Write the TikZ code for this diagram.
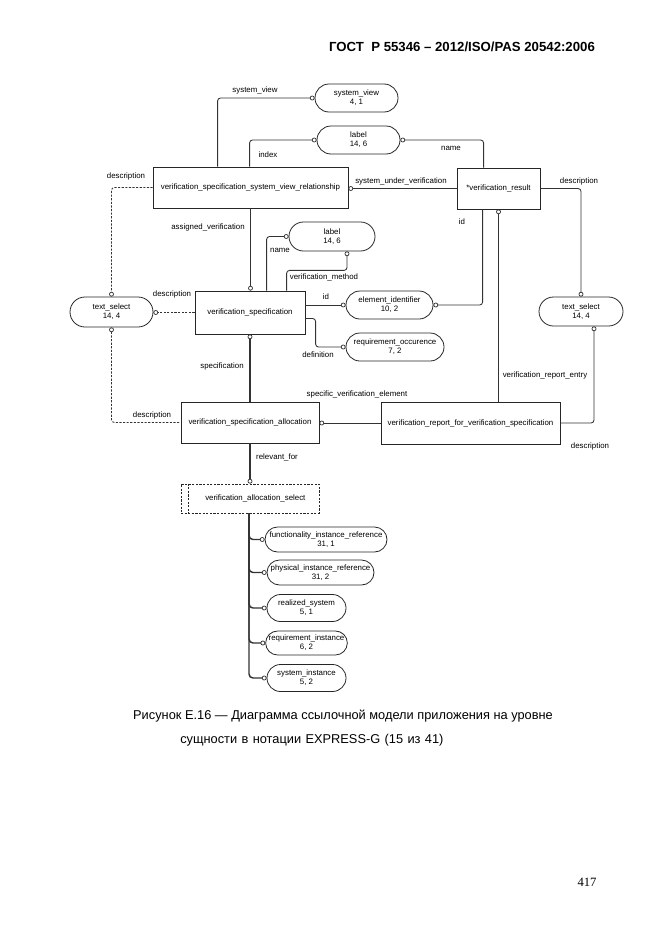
\documentclass[tikz,border=0pt]{standalone}
\usepackage{fontspec}
\setmainfont{Liberation Sans}
\newfontfamily\serifnum{Liberation Serif}
\usetikzlibrary{shapes.misc,arrows.meta,calc}
\newcommand\dfont{\fontsize{5.9}{6.9}\selectfont}
\begin{document}
\begin{tikzpicture}[x=0.75pt,y=-0.75pt,
  sz/.style 2 args={minimum width=#1*0.75pt, minimum height=#2*0.75pt},
  ent/.style={draw=black!85, line width=0.6pt, rectangle, inner sep=0pt, font=\dfont},
  tref/.style={draw=black!85, line width=0.6pt, rounded rectangle, inner sep=0pt, align=center, font=\dfont},
  lbl/.style={inner sep=0pt, font=\dfont},
  rel/.style={draw=black!80, line width=0.65pt, rounded corners=2.2pt},
  thk/.style={line width=1.1pt},
  dsh/.style={dash pattern=on 1.6pt off 1.1pt},
  tipE/.style={-{Circle[open,length=3.6pt,line width=0.55pt]}},
  tipS/.style={{Circle[open,length=3.6pt,line width=0.55pt]}-}
]
\useasboundingbox (0,0) rectangle (662,935);

% header
\node[inner sep=0pt, font=\bfseries\fontsize{9.9}{12}\selectfont] (hdr) at (462,47) {ГОСТ\ \ Р 55346 – 2012/ISO/PAS 20542:2006};

% entities
\node[ent, sz={195}{41}] (vssvr) at (250.5,187.5) {verification\_specification\_system\_view\_relationship};
\node[ent, sz={83}{41}] (vr) at (498.5,188.5) {*verification\_result};
\node[ent, sz={110}{43}] (vs) at (250,312.5) {verification\_specification};
\node[ent, sz={138}{41}] (vsa) at (250,422.5) {verification\_specification\_allocation};
\node[ent, sz={179}{42}] (vrfvs) at (470.5,423) {verification\_report\_for\_verification\_specification};
\node[ent, dsh, sz={138}{29}] (vas) at (250,498.5) {\hspace{8pt}verification\_allocation\_select};
\draw[dsh, draw=black!85, line width=0.6pt] ($(vas.north west)+(8,0)$) -- ($(vas.south west)+(8,0)$);

% type references
\node[tref, sz={83}{28}] (sv) at (356.5,98) {system\_view\\4, 1};
\node[tref, sz={83}{28}] (lbl1) at (358.5,140) {label\\14, 6};
\node[tref, sz={86}{29}] (lbl2) at (332,236.5) {label\\14, 6};
\node[tref, sz={87}{28}] (ei) at (389.5,305) {element\_identifier\\10, 2};
\node[tref, sz={98}{28}] (rq) at (395,347) {requirement\_occurence\\7, 2};
\node[tref, sz={84}{29}] (tsr) at (581,311.5) {text\_select\\14, 4};
\node[tref, sz={83}{30}] (tsl) at (111.5,312) {text\_select\\14, 4};
\node[tref, sz={122}{25}] (fir) at (326,539.5) {functionality\_instance\_reference\\31, 1};
\node[tref, sz={107}{25}] (pir) at (320.5,572.5) {physical\_instance\_reference\\31, 2};
\node[tref, sz={79}{27}] (rs) at (306.5,608) {realized\_system\\5, 1};
\node[tref, sz={79}{24}] (ri) at (306.5,643) {requirement\_instance\\6, 2};
\node[tref, sz={79}{27}] (si) at (306.5,678) {system\_instance\\5, 2};

% connectors
\draw[rel, tipE] ($(vssvr.north west)+(65,0)$) |- (sv.west);
\draw[rel, tipE] ($(vssvr.north west)+(97,0)$) |- (lbl1.west);
\draw[rel, tipS] (lbl1.east) -| ($(vr.north west)+(27,0)$);
\draw[rel, tipE] (vr.west) -- (vr.west -| vssvr.east);
\draw[rel, tipE] (vr.east) -| (tsr.north);
\draw[rel, tipE] ($(vr.south west)+(26,0)$) |- (ei.east);
\draw[rel, thk, tipS] (vr.south) -- (vr.south |- vrfvs.north);
\draw[rel, tipS] ($(tsr.south)+(13,0)$) |- (vrfvs.east);
\draw[rel, thk, tipE] (vssvr.south) -- (vssvr.south |- vs.north);
\draw[rel, dsh, tipE] (vssvr.west) -| (tsl.north);
\draw[rel, tipE] ($(vs.north west)+(72,0)$) |- (lbl2.west);
\draw[rel, tipE] ($(vs.north west)+(92,0)$) |- ($(lbl2.south)+(15,19)$) -- ($(lbl2.south)+(15,0)$);
\draw[rel, tipE] (ei.west -| vs.east) -- (ei.west);
\draw[rel, tipE] ($(vs.east)+(0,6)$) -| ($(rq.west)+(-30,0)$) -- (rq.west);
\draw[rel, dsh, tipE] (vs.west) -- (vs.west -| tsl.east);
\draw[rel, thk, tipS] (vs.south) -- (vsa.north);
\draw[rel, dsh, tipS] (tsl.south) |- (vsa.west);
\draw[rel, tipE] (vrfvs.west) -- (vrfvs.west -| vsa.east);
\draw[rel, thk, tipE] (vsa.south) -- (vas.north);
\foreach \n in {fir,pir,rs,ri,si}{
  \draw[rel, thk, rounded corners=3pt, tipE] ($(vas.south)+(-1,0)$) |- (\n.west);
}

% labels
\node[lbl] (t1) at (255,90) {system\_view};
\node[lbl] (t2) at (268,155) {index};
\node[lbl] (t3) at (451,148) {name};
\node[lbl] (t4) at (126,176) {description};
\node[lbl] (t5) at (401,181) {system\_under\_verification};
\node[lbl] (t6) at (579,181) {description};
\node[lbl] (t7) at (462,222) {id};
\node[lbl] (t8) at (208,227) {assigned\_verification};
\node[lbl] (t9) at (280,250) {name};
\node[lbl] (t10) at (324,277) {verification\_method};
\node[lbl] (t11) at (172,294) {description};
\node[lbl] (t12) at (326,297) {id};
\node[lbl] (t13) at (318,355) {definition};
\node[lbl] (t14) at (222,366) {specification};
\node[lbl] (t15) at (545,375) {verification\_report\_entry};
\node[lbl] (t16) at (357,394) {specific\_verification\_element};
\node[lbl] (t17) at (152,415) {description};
\node[lbl] (t18) at (590,446) {description};
\node[lbl] (t19) at (277,457) {relevant\_for};

% caption
\node[inner sep=0pt, font=\fontsize{9.6}{12}\selectfont] (cap1) at (343,716) {Рисунок Е.16 — Диаграмма ссылочной модели приложения на уровне};
\node[inner sep=0pt, anchor=west, font=\fontsize{9.6}{12}\selectfont] (cap2) at (180,740) {\spaceskip=3.3pt сущности в нотации EXPRESS-G (15 из 41)};
\node[inner sep=0pt, font=\serifnum\fontsize{9.5}{12}\selectfont] (pg) at (587,882) {417};
\end{tikzpicture}
\end{document}
